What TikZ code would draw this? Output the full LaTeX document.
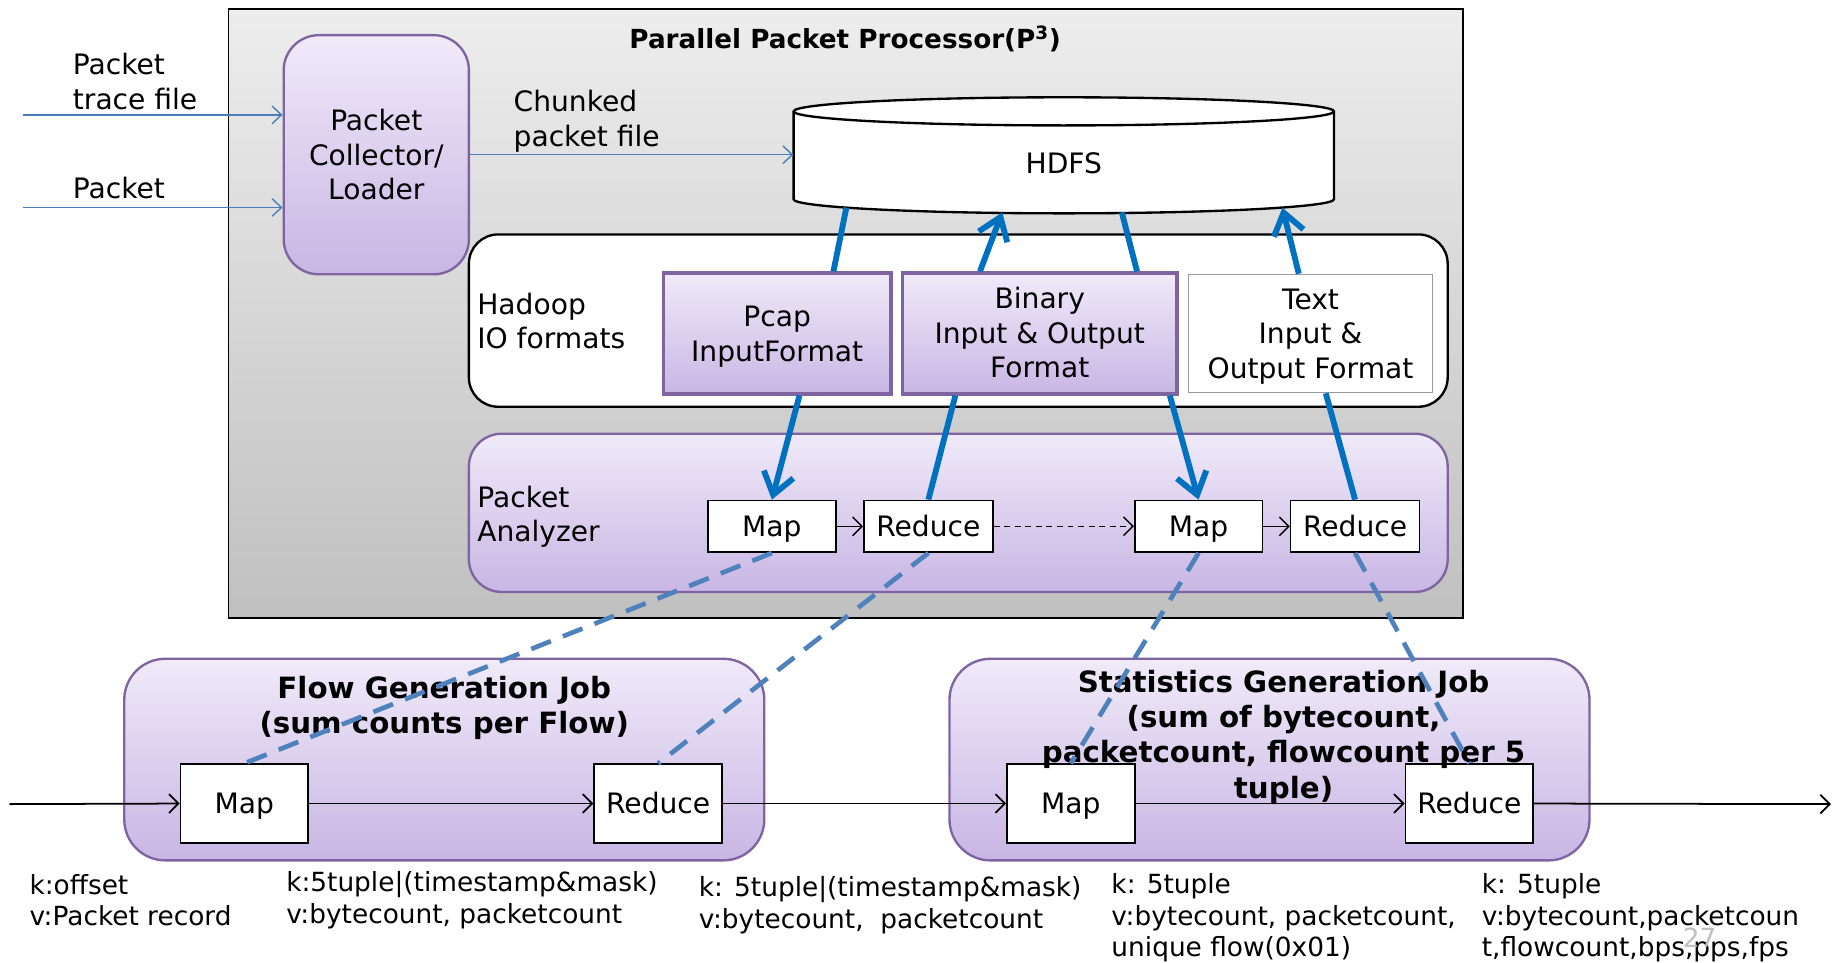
\documentclass[tikz,border=0pt]{standalone}
\usepackage{fontspec}
\setmainfont{DejaVu Sans}
\usetikzlibrary{arrows.meta,calc}
\definecolor{purpleedge}{HTML}{8064A2}
\definecolor{purpletop}{RGB}{240,234,249}
\definecolor{purplebot}{RGB}{200,182,228}
\definecolor{graytop}{RGB}{237,237,237}
\definecolor{graybot}{RGB}{192,192,192}
\definecolor{thinblue}{HTML}{4A7EBB}
\definecolor{thickblue}{HTML}{0070C0}
\definecolor{dashblue}{HTML}{4F81BD}
\newcommand\fsBody{\fontsize{24}{29.5}\selectfont}
\newcommand\fsNote{\fontsize{22.5}{27}\selectfont}
\newcommand\fsHead{\fontsize{22.4}{27}\selectfont\bfseries}
\newcommand\fsJob{\fontsize{25}{30}\selectfont\bfseries}
\begin{document}
\begin{tikzpicture}[x=1pt,y=-1pt,
  framebox/.style={draw=black,line width=1.5pt,shade,top color=graytop,bottom color=graybot,
    minimum width=#1,inner sep=0},
  purplebox/.style={draw=purpleedge,line width=2pt,shade,top color=purpletop,bottom color=purplebot,
    inner sep=0,align=center,font=\fsBody},
  fmtbox/.style={purplebox,line width=3pt},
  plainfmt/.style={draw=black!40,line width=1pt,fill=white,inner sep=0,align=center,font=\fsBody},
  whitebox/.style={draw=black,line width=2pt,fill=white,rounded corners=25pt,inner sep=0},
  taskbox/.style={draw=black,line width=1.5pt,fill=white,inner sep=0,font=\fsBody,
    minimum width=109pt,text height=17.5pt,text depth=0pt},
  txt/.style={inner sep=0,align=left,anchor=west,font=\fsBody},
  note/.style={inner sep=0,align=left,anchor=west,font=\fsNote},
  inarrow/.style={draw=thinblue,line width=1.2pt,-{Straight Barb[length=8pt,width=15pt]}},
  flowarrow/.style={draw=black,line width=1.5pt,-{Straight Barb[length=8pt,width=16pt]}},
  io/.style={draw=thickblue,line width=5pt},
  ioarrow/.style={io,-{Straight Barb[length=18pt,width=26pt]}},
  link/.style={draw=dashblue,line width=4pt,dash pattern=on 18pt off 11pt}]
\useasboundingbox (0,0) rectangle (1568,821);

% processor frame and title
\node[framebox=1053pt,minimum height=519pt] (p3) at (721.5,267.5) {};
\node[inner sep=0,font=\fsHead] (title) at (721,33) {Parallel Packet Processor(P\textsuperscript{3})};

% collector / loader and its inputs
\node[purplebox,rounded corners=30pt,minimum width=158pt,minimum height=204pt] (collector) at (321,132)
  {Packet\\Collector/\\Loader};
\node[txt] (lbltrace) at (62,69.5) {Packet\\trace file};
\node[txt] (lblpacket) at (62,160) {Packet};
\coordinate (src1) at (20,98);
\coordinate (src2) at (20,177);
\draw[inarrow] (src1) -- ([yshift=34pt]collector.west);
\draw[inarrow] (src2) -- ([yshift=-45pt]collector.west);

% HDFS store
\node[inner sep=0,minimum width=461pt,minimum height=100pt,font=\fsBody] (hdfs) at (907.5,132) {};
\draw[line width=2pt,fill=white] (677,95) -- (677,170)
  arc[start angle=180,end angle=360,x radius=230.5pt,y radius=12pt] -- (1138,95)
  arc[start angle=0,end angle=180,x radius=230.5pt,y radius=12pt] -- cycle;
\draw[line width=2pt] (677,95) arc[start angle=180,end angle=360,x radius=230.5pt,y radius=12pt];
\node[inner sep=0,font=\fsBody] at (907.5,139) {HDFS};
\node[txt] (lblchunk) at (438,103.5) {Chunked\\packet file};
\draw[inarrow] (collector.east) -- (hdfs.west);

% Hadoop IO formats
\node[whitebox,minimum width=835pt,minimum height=147pt] (iofmt) at (817.5,273.5) {};
\node[txt] (lblio) at (407,274) {Hadoop\\IO formats};
\node[fmtbox,minimum width=194pt,minimum height=103pt,text depth=0pt] (pcap) at (663,284.5) {Pcap\\InputFormat};
\node[fmtbox,minimum width=234pt,minimum height=103pt,text depth=2pt] (binary) at (887,284.5) {Binary\\Input \& Output\\Format};
\node[plainfmt,minimum width=208pt,minimum height=101pt,text depth=0pt] (textfmt) at (1118,284.5) {Text\\Input \&\\Output Format};

% packet analyzer
\node[purplebox,rounded corners=28pt,minimum width=835pt,minimum height=135pt] (analyzer) at (817.5,437.5) {};
\node[txt] (lblana) at (407,441) {Packet\\Analyzer};
\node[taskbox,minimum height=44pt] (mapA) at (658.5,449) {Map};
\node[taskbox,minimum width=110pt,minimum height=44pt] (redA) at (792,449) {Reduce};
\node[taskbox,minimum height=44pt] (mapB) at (1022.5,449) {Map};
\node[taskbox,minimum width=110pt,minimum height=44pt] (redB) at (1156,449) {Reduce};
\draw[flowarrow,line width=1.2pt] (mapA) -- (redA);
\draw[flowarrow,line width=1.2pt,dash pattern=on 5pt off 4pt] (redA) -- (mapB);
\draw[flowarrow,line width=1.2pt] (mapB) -- (redB);

% reads and writes between HDFS, formats and tasks
\draw[io] ([xshift=-185.5pt,yshift=5pt]hdfs.south) -- ([xshift=48pt]pcap.north);
\draw[ioarrow] ([xshift=19pt]pcap.south) -- (mapA.north);
\draw[io] (redA.north) -- ([xshift=-72pt]binary.south);
\draw[ioarrow] ([xshift=-51pt]binary.north) -- ([xshift=-52.5pt,yshift=1pt]hdfs.south);
\draw[io] ([xshift=49.5pt,yshift=1pt]hdfs.south) -- ([xshift=83pt]binary.north);
\draw[ioarrow] ([xshift=111pt]binary.south) -- (mapB.north);
\draw[io] (redB.north) -- ([xshift=13pt]textfmt.south);
\draw[ioarrow] ([xshift=-10pt]textfmt.north) -- ([xshift=186.5pt,yshift=5pt]hdfs.south);

% MapReduce jobs
\node[purplebox,rounded corners=35pt,minimum width=546pt,minimum height=172pt] (flowjob) at (379,648) {};
\node[purplebox,rounded corners=35pt,minimum width=546pt,minimum height=172pt] (statjob) at (1083,648) {};
\node[taskbox,minimum height=67pt] (fmap) at (208.5,685.5) {Map};
\node[taskbox,minimum height=67pt] (fred) at (561.5,685.5) {Reduce};
\node[taskbox,minimum height=67pt] (smap) at (913.5,685.5) {Map};
\node[taskbox,minimum height=67pt] (sred) at (1253.5,685.5) {Reduce};
\coordinate (start) at (8,686);
\coordinate (finish) at (1562,686);
\draw[flowarrow] (start) -- (fmap.west);
\draw[flowarrow] (fmap.east) -- (fred.west);
\draw[flowarrow] (fred.east) -- (smap.west);
\draw[flowarrow] (smap.east) -- (sred.west);
\draw[flowarrow] (sred.east) -- (finish);
\node[inner sep=0,align=center,font=\fsJob] (flowtitle) at (379,604)
  {Flow Generation Job\\(sum counts per Flow)};
\node[inner sep=0,align=center,font=\fsJob] (stattitle) at (1095,629)
  {Statistics Generation Job\\(sum of bytecount,\\packetcount, flowcount per 5\\tuple)};

% key/value annotations
\node[note] (kv1) at (25,768) {k:offset\\v:Packet record};
\node[note] (kv2) at (244,768) {k:5tuple|(timestamp\&mask)\\v:bytecount, packetcount};
\node[note] (kv3) at (596,772) {k: 5tuple|(timestamp\&mask)\\v:bytecount,\ \ packetcount};
\node[note] (kv4) at (948,783) {k: 5tuple\\v:bytecount, packetcount,\\unique flow(0x01)};
\node[note] (kv5) at (1264,783) {k: 5tuple\\v:bytecount,packetcoun\\t,flowcount,bps,pps,fps};
\node[inner sep=0,font=\fsNote,text=black!25] (pageno) at (1450,800) {27};

% tasks of the analyzer mapped onto the jobs
\draw[link] (mapA.south) -- (fmap.north);
\draw[link] (redA.south) -- (fred.north);
\draw[link] (mapB.south) -- (smap.north);
\draw[link] (redB.south) -- (sred.north);
\end{tikzpicture}
\end{document}
